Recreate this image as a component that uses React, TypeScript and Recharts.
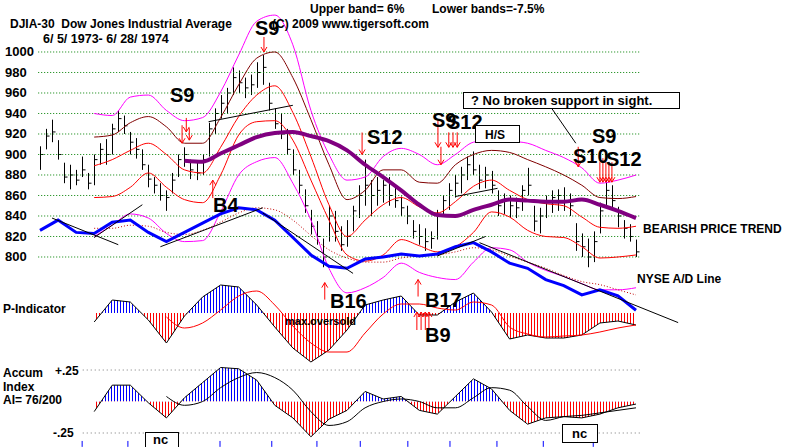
import React from "react";
import {
  ComposedChart,
  Bar,
  Line,
  Area,
  XAxis,
  YAxis,
  ReferenceLine,
  ReferenceDot,
} from "recharts";

const W = 800;
const H = 447;
const FONT = "'Liberation Sans', Arial, sans-serif";

// DJIA daily bars (sampled every ~2.7 trading days), 6/5/1973 - 6/28/1974
const HI = [908, 925, 934, 914, 892, 890, 885, 898, 882, 900, 911, 915, 930, 943, 938, 922, 916, 905, 890, 878, 872, 865, 882, 900, 907, 895, 892, 900, 931, 945, 958, 965, 985, 982, 975, 978, 990, 997, 970, 945, 940, 925, 905, 885, 866, 846, 835, 818, 850, 845, 830, 836, 850, 870, 895, 875, 878, 875, 878, 870, 859, 850, 836, 832, 828, 825, 846, 860, 872, 880, 888, 898, 903, 890, 888, 884, 865, 862, 860, 858, 870, 887, 850, 848, 860, 865, 866, 868, 862, 833, 823, 818, 825, 853, 875, 870, 849, 836, 832, 817];
const LO = [885, 905, 912, 895, 872, 866, 870, 878, 866, 870, 890, 890, 900, 922, 920, 900, 896, 885, 868, 862, 855, 845, 862, 878, 888, 876, 875, 880, 898, 920, 935, 940, 958, 960, 955, 958, 965, 968, 943, 925, 915, 900, 880, 862, 843, 822, 812, 790, 815, 815, 806, 810, 825, 838, 850, 840, 850, 853, 850, 848, 840, 832, 818, 812, 806, 808, 817, 840, 846, 858, 862, 875, 880, 866, 867, 862, 840, 842, 838, 838, 845, 860, 825, 823, 838, 843, 845, 845, 840, 806, 800, 790, 795, 823, 848, 846, 829, 818, 815, 800];
const CL = [900, 918, 922, 900, 878, 880, 875, 885, 872, 895, 905, 900, 925, 935, 928, 912, 905, 890, 876, 870, 860, 858, 875, 895, 900, 885, 882, 895, 925, 940, 950, 960, 975, 970, 965, 968, 980, 985, 950, 930, 920, 905, 885, 870, 850, 830, 820, 800, 840, 825, 812, 820, 845, 860, 870, 860, 865, 870, 860, 855, 848, 840, 825, 820, 815, 818, 840, 855, 865, 872, 880, 890, 885, 875, 880, 870, 850, 855, 850, 848, 865, 870, 835, 840, 855, 858, 860, 855, 850, 815, 810, 800, 815, 845, 865, 855, 840, 828, 820, 805];

// bands, averages and indicators, read every third bar
const STEP = 3;
const MAG_UP = [null, null, null, 940, 938, 956, 958, 943, 933, 936, 961, 997, 1030, 1036, 1007, 943, 900, 875, 878, 898, 906, 900, 890, 900, 912, 914, 913, 911, 904, 897, 887, 872, 875, 880];
const MAROON = [null, null, null, 917, 919, 931, 937, 927, 911, 911, 936, 968, 994, 1000, 975, 934, 890, 856, 865, 885, 885, 873, 872, 890, 900, 904, 902, 895, 888, 880, 870, 858, 857, 859];
const RED_UP = [null, null, null, 889, 895, 904, 911, 900, 885, 882, 907, 937, 958, 967, 941, 898, 851, 820, 836, 851, 858, 849, 843, 854, 869, 875, 865, 856, 852, 850, 839, 829, 828, 830];
const RED_LO = [null, null, null, 858, 859, 868, 882, 868, 856, 853, 880, 919, 932, 933, 914, 875, 836, 802, 796, 802, 817, 811, 805, 810, 824, 844, 839, 826, 820, 819, 810, 799, 800, 802];
const MAG_LO = [null, null, null, 820, 831, 842, 838, 823, 815, 816, 844, 880, 893, 897, 872, 836, 789, 765, 770, 780, 794, 785, 780, 778, 795, 809, 807, 795, 787, 781, 774, 768, 768, 770];
const MA65 = [null, null, null, null, null, null, null, null, 894, 893, 901, 909, 917, 921, 922, 918, 913, 904, 890, 878, 865, 851, 841, 840, 846, 851, 856, 855, 854, 854, 856, 851, 845, 838];
const AD_LINE = [826, 836, 824, 823, 834, 836, 824, 815, 824, 833, 842, 848, 846, 836, 819, 802, 791, 789, 798, 800, 803, 801, 803, 810, 814, 805, 794, 789, 778, 772, 763, 768, 762, 748];
const AD_MA = [null, null, null, 828, 828, 831, 830, 824, 822, 826, 834, 843, 848, 846, 836, 821, 807, 799, 795, 795, 799, 801, 802, 805, 809, 807, 801, 795, 789, 782, 776, 773, 768, 763];
const P_IND = [null, null, null, -9, 13, 11, -7, -30, -3, 16, 28, 26, 8, -14, -35, -49, -37, -17, 8, 13, 17, -2, -2, 11, 20, 1, -26, -22, -25, -25, -22, -10, -8, -12];
const P_MA = [null, null, null, null, null, null, null, -4, -15, -10, 3, 17, 22, 8, -13, -30, -39, -39, -20, -1, 9, 9, 5, 3, 11, 8, -14, -21, -24, -23, -22, -19, -15, -12];
const AI = [null, null, null, -0.08, 0.13, 0.13, -0.01, -0.13, 0.03, 0.15, 0.27, 0.26, 0.17, -0.03, -0.13, -0.28, -0.14, -0.07, 0.08, 0.02, 0.04, -0.07, -0.1, 0.04, 0.18, 0.1, -0.07, -0.18, -0.13, -0.12, -0.13, -0.1, -0.05, -0.02];
const AI_MA = [null, null, null, null, null, null, null, 0.04, -0.03, 0, 0.11, 0.19, 0.23, 0.19, 0.09, -0.08, -0.19, -0.16, -0.05, 0, 0.02, 0, -0.05, -0.05, 0.03, 0.11, 0.09, -0.04, -0.15, -0.12, -0.11, -0.09, -0.07, -0.05];

// hand-drawn trend lines: [bar index, price]
const TRENDS: Record<string, [number, number][]> = {
  t1: [[2, 838], [13, 812]],
  t2: [[9, 819], [17, 851]],
  t3: [[20, 810], [37, 848]],
  t4: [[28, 932], [42, 948]],
  t5: [[37, 843], [52, 784]],
  t6: [[69, 859], [76, 867]],
  t7: [[66, 801], [74, 820]],
  t8: [[73, 814], [106, 736]],
  ptr: [[85, 945], [89, 911]],
};

const PRICE_TICKS = [800, 820, 840, 860, 880, 900, 920, 940, 960, 980, 1000];
const MONTH_TICKS = [7, 14.6, 29.9, 38.5, 46, 53.2, 61.1, 68.1, 75.9, 83.6, 91.9];

// signal arrows: bar index, tip value, axis, direction, length
type Sig = { i: number; v: number; ax: string; dir: "up" | "down"; len: number };
const SIGNALS: Sig[] = [
  { i: 24.3, v: 922, ax: "price", dir: "down", len: 14 },
  { i: 23.6, v: 911, ax: "price", dir: "down", len: 18 },
  { i: 24.8, v: 914, ax: "price", dir: "down", len: 12 },
  { i: 37.2, v: 1000, ax: "price", dir: "down", len: 15 },
  { i: 53.5, v: 900, ax: "price", dir: "down", len: 22 },
  { i: 66.1, v: 907, ax: "price", dir: "down", len: 27 },
  { i: 66.6, v: 890, ax: "price", dir: "down", len: 18 },
  { i: 67.9, v: 907, ax: "price", dir: "down", len: 15 },
  { i: 68.6, v: 907, ax: "price", dir: "down", len: 15 },
  { i: 69.3, v: 907, ax: "price", dir: "down", len: 15 },
  { i: 89.4, v: 888, ax: "price", dir: "down", len: 20 },
  { i: 93.0, v: 873, ax: "price", dir: "down", len: 20 },
  { i: 93.5, v: 873, ax: "price", dir: "down", len: 24 },
  { i: 94.0, v: 873, ax: "price", dir: "down", len: 20 },
  { i: 94.5, v: 873, ax: "price", dir: "down", len: 20 },
  { i: 95.0, v: 873, ax: "price", dir: "down", len: 20 },
  { i: 28.7, v: 875, ax: "price", dir: "up", len: 18 },
  { i: 47.3, v: 775, ax: "price", dir: "up", len: 17 },
  { i: 62.8, v: 778, ax: "price", dir: "up", len: 17 },
  { i: 62.6, v: 1, ax: "pind", dir: "up", len: 18 },
  { i: 63.3, v: 1, ax: "pind", dir: "up", len: 18 },
  { i: 64.0, v: 1, ax: "pind", dir: "up", len: 18 },
  { i: 64.6, v: 1, ax: "pind", dir: "up", len: 18 },
];

// axis domains chosen so the three panels stack like the original
const X_DOMAIN = [-6.644, 126.24];
const PRICE_DOMAIN = [614.63, 1050.73];
const P_DOMAIN = [-134, 313];
const AI_DOMAIN = [-0.361, 3.187];
const P_ZERO = (H * P_DOMAIN[1]) / (P_DOMAIN[1] - P_DOMAIN[0]);
const AI_ZERO = (H * AI_DOMAIN[1]) / (AI_DOMAIN[1] - AI_DOMAIN[0]);

const LAST = 106;
const rows: any[] = [];
for (let i = 0; i <= LAST; i++) {
  const r: any = { i };
  if (i < HI.length) {
    r.range = [LO[i], HI[i]];
    r.hi = HI[i];
    r.lo = LO[i];
    r.cl = CL[i];
  }
  if (i % STEP === 0 && i / STEP < AD_LINE.length) {
    const k = i / STEP;
    r.magUp = MAG_UP[k];
    r.maroon = MAROON[k];
    r.redUp = RED_UP[k];
    r.redLo = RED_LO[k];
    r.magLo = MAG_LO[k];
    r.ma65 = MA65[k];
    r.ad = AD_LINE[k];
    r.adMa = AD_MA[k];
    r.p = P_IND[k];
    r.pMa = P_MA[k];
    r.ai = AI[k];
    r.aiMa = AI_MA[k];
  }
  rows.push(r);
}
for (const [key, pts] of Object.entries(TRENDS)) {
  for (const [i, v] of pts) rows[i][key] = v;
}

function PriceBar(props: any) {
  const { x, y, width, height, payload } = props;
  if (!payload || payload.hi == null) return null;
  const top = Math.min(y, y + height);
  const bot = Math.max(y, y + height);
  const cx = Math.round(x + width / 2) + 0.5;
  const cy = top + ((payload.hi - payload.cl) / (payload.hi - payload.lo)) * (bot - top);
  return (
    <g stroke="#000" strokeWidth={1}>
      <line x1={cx} y1={top} x2={cx} y2={bot} />
      <line x1={cx} y1={cy} x2={cx + 3} y2={cy} />
    </g>
  );
}

function Arrow(props: any) {
  const { cx, cy, dir, len } = props;
  if (cx == null || cy == null) return null;
  const tail = dir === "down" ? cy - len : cy + len;
  const h = dir === "down" ? -5 : 5;
  return (
    <g stroke="#ff0000" strokeWidth={1} fill="none">
      <line x1={cx} y1={tail} x2={cx} y2={cy} />
      <polyline points={`${cx - 3},${cy + h} ${cx},${cy} ${cx + 3},${cy + h}`} />
    </g>
  );
}

const PriceTick = (p: any) => (
  <text x={5} y={p.y + 4.5} fontSize={13} fontWeight="bold" fontFamily={FONT} fill="#000">
    {p.payload.value}
  </text>
);

function T({ x, y, s = 13, children }: any) {
  return (
    <text x={x} y={y} fontSize={s} fontWeight="bold" fontFamily={FONT} fill="#000" style={{ whiteSpace: "pre" }}>
      {children}
    </text>
  );
}

function Overlay() {
  return (
    <svg width={W} height={H} style={{ position: "absolute", left: 0, top: 0, pointerEvents: "none" }}>
      <defs>
        <pattern id="pStripe" patternUnits="userSpaceOnUse" width={3} height={H}>
          <rect x={0} y={0} width={1} height={P_ZERO} fill="#0000ff" />
          <rect x={0} y={P_ZERO} width={1} height={H - P_ZERO} fill="#ff0000" />
        </pattern>
        <pattern id="aiStripe" patternUnits="userSpaceOnUse" width={3} height={H}>
          <rect x={0} y={0} width={1} height={AI_ZERO} fill="#0000ff" />
          <rect x={0} y={AI_ZERO} width={1} height={H - AI_ZERO} fill="#ff0000" />
        </pattern>
      </defs>
      <T x={10} y={28} s={12}>{"DJIA-30  Dow Jones Industrial Average"}</T>
      <T x={43} y={43} s={12.5}>{"6/ 5/ 1973- 6/ 28/ 1974"}</T>
      <T x={310} y={13} s={12}>{"Upper band= 6%"}</T>
      <T x={432} y={13} s={12}>{"Lower bands=-7.5%"}</T>
      <T x={272} y={28} s={12}>{"(C) 2009 www.tigersoft.com"}</T>

      <T x={170} y={102} s={20}>S9</T>
      <T x={255} y={35} s={20}>S9</T>
      <T x={367} y={144} s={20}>S12</T>
      <T x={432} y={127} s={20}>S9</T>
      <T x={447} y={129} s={20}>S12</T>
      <T x={592} y={143} s={20}>S9</T>
      <T x={573} y={163} s={20}>S10</T>
      <T x={606} y={166} s={20}>S12</T>
      <T x={213} y={212} s={20}>B4</T>
      <T x={330} y={308} s={20}>B16</T>
      <T x={425} y={307} s={20}>B17</T>
      <T x={425} y={342} s={20}>B9</T>

      <rect x={463.5} y={92.5} width={216} height={16} fill="#fff" stroke="#000" />
      <T x={471} y={105}>? No broken support in sight.</T>
      <rect x={475.5} y={125.5} width={44} height={17} fill="#fff" stroke="#000" />
      <T x={485} y={139} s={12}>H/S</T>

      <T x={643} y={233} s={12}>BEARISH PRICE TREND</T>
      <T x={637} y={283} s={12}>NYSE A/D Line</T>
      <T x={3} y={313} s={12}>P-Indicator</T>
      <T x={285} y={325} s={11}>max.oversold</T>
      <T x={3} y={377} s={12}>Accum</T>
      <T x={3} y={391} s={12}>Index</T>
      <T x={3} y={404} s={12}>AI= 76/200</T>
      <T x={55} y={375} s={12}>+.25</T>
      <T x={53} y={437} s={12}>-.25</T>

      <rect x={145.5} y={432.5} width={33} height={20} fill="#fff" stroke="#000" />
      <T x={153} y={444} s={13}>nc</T>
      <rect x={562.5} y={424.5} width={35} height={18} fill="#fff" stroke="#000" />
      <T x={572} y={438} s={13}>nc</T>
    </svg>
  );
}

const band = (key: string, color: string, width = 1) => (
  <Line
    key={key}
    yAxisId="price"
    dataKey={key}
    type="monotone"
    stroke={color}
    strokeWidth={width}
    dot={false}
    activeDot={false}
    connectNulls
    isAnimationActive={false}
  />
);

export default function App() {
  return (
    <div style={{ position: "absolute", left: 0, top: 0, width: W, height: H, background: "#fff" }}>
      <ComposedChart width={W} height={H} data={rows} margin={{ top: 0, right: 0, bottom: 0, left: 0 }}>
        <XAxis dataKey="i" type="number" domain={X_DOMAIN} allowDataOverflow hide />
        <YAxis
          yAxisId="price"
          domain={PRICE_DOMAIN}
          allowDataOverflow
          ticks={PRICE_TICKS}
          interval={0}
          mirror
          axisLine={false}
          tickLine={false}
          tick={PriceTick}
        />
        <YAxis yAxisId="pind" domain={P_DOMAIN} allowDataOverflow hide />
        <YAxis yAxisId="ai" domain={AI_DOMAIN} allowDataOverflow hide />

        {PRICE_TICKS.map((v) => (
          <ReferenceLine
            key={`g${v}`}
            yAxisId="price"
            segment={[{ x: -0.3, y: v }, { x: 99.7, y: v }]}
            stroke="#008000"
            strokeDasharray="1 2"
          />
        ))}
        {[0.25, -0.25].map((v) => (
          <ReferenceLine
            key={`a${v}`}
            yAxisId="ai"
            segment={[{ x: 7.1, y: v }, { x: 99.7, y: v }]}
            stroke="#777"
            strokeDasharray="1 3"
          />
        ))}
        {MONTH_TICKS.map((m) => (
          <ReferenceLine
            key={`m${m}`}
            yAxisId="ai"
            segment={[{ x: m, y: -0.313 }, { x: m, y: -0.36 }]}
            stroke="#0000ff"
          />
        ))}

        {band("magUp", "#ff00ff")}
        {band("maroon", "#800000")}
        {band("redUp", "#ff0000")}
        {band("redLo", "#ff0000")}
        {band("magLo", "#ff00ff")}
        <Line yAxisId="price" dataKey="adMa" type="monotone" stroke="#c00000" strokeWidth={1} strokeDasharray="1 2" dot={false} activeDot={false} connectNulls isAnimationActive={false} />
        <Line yAxisId="price" dataKey="ad" type="linear" stroke="#0000ff" strokeWidth={3} dot={false} activeDot={false} connectNulls isAnimationActive={false} />
        {Object.keys(TRENDS).map((k) => (
          <Line key={k} yAxisId="price" dataKey={k} type="linear" stroke="#000" strokeWidth={1} dot={false} activeDot={false} connectNulls isAnimationActive={false} />
        ))}
        <Bar yAxisId="price" dataKey="range" barSize={4} shape={PriceBar} activeBar={false} isAnimationActive={false} />
        {band("ma65", "#800080", 4)}

        <Area yAxisId="pind" dataKey="p" type="linear" baseValue={0} stroke="#000" strokeWidth={1} fill="url(#pStripe)" fillOpacity={1} activeDot={false} connectNulls isAnimationActive={false} />
        <Line yAxisId="pind" dataKey="pMa" type="monotone" stroke="#ff0000" strokeWidth={1} dot={false} activeDot={false} connectNulls isAnimationActive={false} />
        <Area yAxisId="ai" dataKey="ai" type="linear" baseValue={0} stroke="#000" strokeWidth={1} fill="url(#aiStripe)" fillOpacity={1} activeDot={false} connectNulls isAnimationActive={false} />
        <Line yAxisId="ai" dataKey="aiMa" type="monotone" stroke="#000" strokeWidth={1} dot={false} activeDot={false} connectNulls isAnimationActive={false} />

        {SIGNALS.map((s, k) => (
          <ReferenceDot
            key={`s${k}`}
            yAxisId={s.ax}
            x={s.i}
            y={s.v}
            r={0}
            ifOverflow="visible"
            shape={(p: any) => <Arrow {...p} dir={s.dir} len={s.len} />}
          />
        ))}
      </ComposedChart>
      <Overlay />
    </div>
  );
}
